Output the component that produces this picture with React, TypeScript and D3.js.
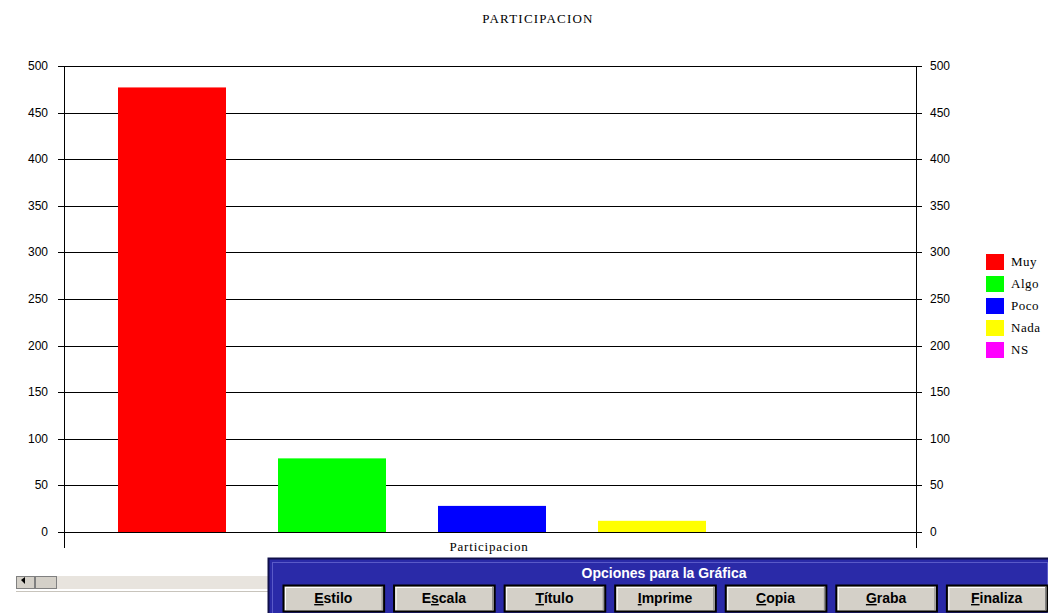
import React, { useRef, useEffect } from 'react';
import * as d3 from 'd3';

const title = 'PARTICIPACION';
const xLabel = 'Participacion';
const categories = ['Muy', 'Algo', 'Poco', 'Nada', 'NS'];
const values = [477, 79, 28, 12, 0];
const colors = ['#ff0000', '#00ff00', '#0000ff', '#ffff00', '#ff00ff'];
const yTicks = [0, 50, 100, 150, 200, 250, 300, 350, 400, 450, 500];
const buttons = ['Estilo', 'Escala', 'Título', 'Imprime', 'Copia', 'Graba', 'Finaliza'];
const buttonKeys = [0, 1, 0, 0, 0, 0, 0]; // underlined letter index

const W = 1048;
const H = 613;

const App = () => {
  const ref = useRef<SVGSVGElement>(null);

  useEffect(() => {
    if (!ref.current) return;
    const svg = d3.select(ref.current);
    svg.selectAll('*').remove();

    const left = 64;
    const right = 916;
    const top = 66;
    const bottom = 532;
    const serif = '"Liberation Serif", "DejaVu Serif", serif';
    const sans = '"Liberation Sans", Arial, sans-serif';

    const y = d3.scaleLinear().domain([0, 500]).range([bottom, top]);
    const x = d3.scaleBand().domain(categories).range([left + 2, right + 2]).padding(0.325);

    svg.append('rect').attr('width', W).attr('height', H).attr('fill', '#fff');

    svg.append('text')
      .attr('x', 538).attr('y', 23)
      .attr('text-anchor', 'middle')
      .attr('font-family', serif).attr('font-size', 13)
      .attr('letter-spacing', 1.2)
      .text(title);

    // gridlines
    svg.append('g').selectAll('line').data(yTicks).join('line')
      .attr('x1', left - 6).attr('x2', right + 6)
      .attr('y1', (d) => Math.round(y(d)) + 0.5).attr('y2', (d) => Math.round(y(d)) + 0.5)
      .attr('stroke', '#000');

    // bars
    svg.append('g').selectAll('rect').data(categories).join('rect')
      .attr('x', (d) => x(d)!)
      .attr('width', x.bandwidth())
      .attr('y', (_, i) => y(values[i]))
      .attr('height', (_, i) => bottom - y(values[i]))
      .attr('fill', (_, i) => colors[i]);

    // axes
    [left, right].forEach((ax) => {
      svg.append('line')
        .attr('x1', ax + 0.5).attr('x2', ax + 0.5)
        .attr('y1', top).attr('y2', 548)
        .attr('stroke', '#000');
    });

    const tickFont = sans;
    svg.append('g').selectAll('text').data(yTicks).join('text')
      .attr('x', 48).attr('y', (d) => y(d) + 4)
      .attr('text-anchor', 'end')
      .attr('font-family', tickFont).attr('font-size', 12)
      .text((d) => d);
    svg.append('g').selectAll('text').data(yTicks).join('text')
      .attr('x', 930).attr('y', (d) => y(d) + 4)
      .attr('font-family', tickFont).attr('font-size', 12)
      .text((d) => d);

    svg.append('text')
      .attr('x', 489).attr('y', 551)
      .attr('text-anchor', 'middle')
      .attr('font-family', serif).attr('font-size', 13)
      .attr('letter-spacing', 0.8)
      .text(xLabel);

    // legend
    const lg = svg.append('g').attr('transform', 'translate(986,254)');
    categories.forEach((c, i) => {
      lg.append('rect').attr('x', 0).attr('y', i * 22).attr('width', 18).attr('height', 16).attr('fill', colors[i]);
      lg.append('text').attr('x', 25).attr('y', i * 22 + 12)
        .attr('font-family', serif).attr('font-size', 13).attr('letter-spacing', 0.5).text(c);
    });

    // scrollbar
    svg.append('rect').attr('x', 16).attr('y', 576).attr('width', 256).attr('height', 13).attr('fill', '#e8e4de');
    svg.append('line').attr('x1', 16).attr('x2', 272).attr('y1', 591.5).attr('y2', 591.5).attr('stroke', '#c8c4bc');
    svg.append('rect').attr('x', 16.5).attr('y', 576.5).attr('width', 18).attr('height', 12).attr('fill', '#d4d0c8').attr('stroke', '#808080');
    svg.append('path').attr('d', 'M21,580 L25,577 L25,584 Z').attr('fill', '#000');
    svg.append('rect').attr('x', 35.5).attr('y', 576.5).attr('width', 21).attr('height', 12).attr('fill', '#d4d0c8').attr('stroke', '#808080');

    // dialog
    const dlg = svg.append('g');
    dlg.append('rect').attr('x', 268.5).attr('y', 558.5).attr('width', 781).attr('height', 60)
      .attr('fill', '#2a2aa8').attr('stroke', '#10104a').attr('stroke-width', 2);
    dlg.append('rect').attr('x', 272.5).attr('y', 562.5).attr('width', 775).attr('height', 60)
      .attr('fill', 'none').attr('stroke', '#5a5ac8');
    dlg.append('text').attr('x', 664).attr('y', 578)
      .attr('text-anchor', 'middle').attr('fill', '#fff')
      .attr('font-family', sans).attr('font-weight', 'bold').attr('font-size', 14)
      .text('Opciones para la Gráfica');

    const bx = d3.scaleBand().domain(buttons).range([283, 1047]).paddingInner(0.09);
    buttons.forEach((b, i) => {
      const x0 = bx(b)!;
      const bw = bx.bandwidth();
      dlg.append('rect').attr('x', x0 + 0.5).attr('y', 585.5).attr('width', bw).attr('height', 26)
        .attr('fill', '#d4d0c8').attr('stroke', '#000').attr('stroke-width', 2);
      dlg.append('line').attr('x1', x0 + 2).attr('x2', x0 + bw - 1).attr('y1', 587.5).attr('y2', 587.5).attr('stroke', '#fff');
      dlg.append('line').attr('x1', x0 + 2.5).attr('x2', x0 + 2.5).attr('y1', 587).attr('y2', 610).attr('stroke', '#fff');
      dlg.append('line').attr('x1', x0 + bw - 1.5).attr('x2', x0 + bw - 1.5).attr('y1', 587).attr('y2', 610).attr('stroke', '#808080');
      const k = buttonKeys[i];
      const t = dlg.append('text').attr('x', x0 + bw / 2).attr('y', 603)
        .attr('text-anchor', 'middle').attr('fill', '#000')
        .attr('font-family', sans).attr('font-weight', 'bold').attr('font-size', 14);
      t.append('tspan').text(b.slice(0, k));
      t.append('tspan').attr('text-decoration', 'underline').text(b[k]);
      t.append('tspan').text(b.slice(k + 1));
    });
  }, []);

  return (
    <svg ref={ref} width={W} height={H} style={{ position: 'absolute', left: 0, top: 0 }} />
  );
};

export default App;
